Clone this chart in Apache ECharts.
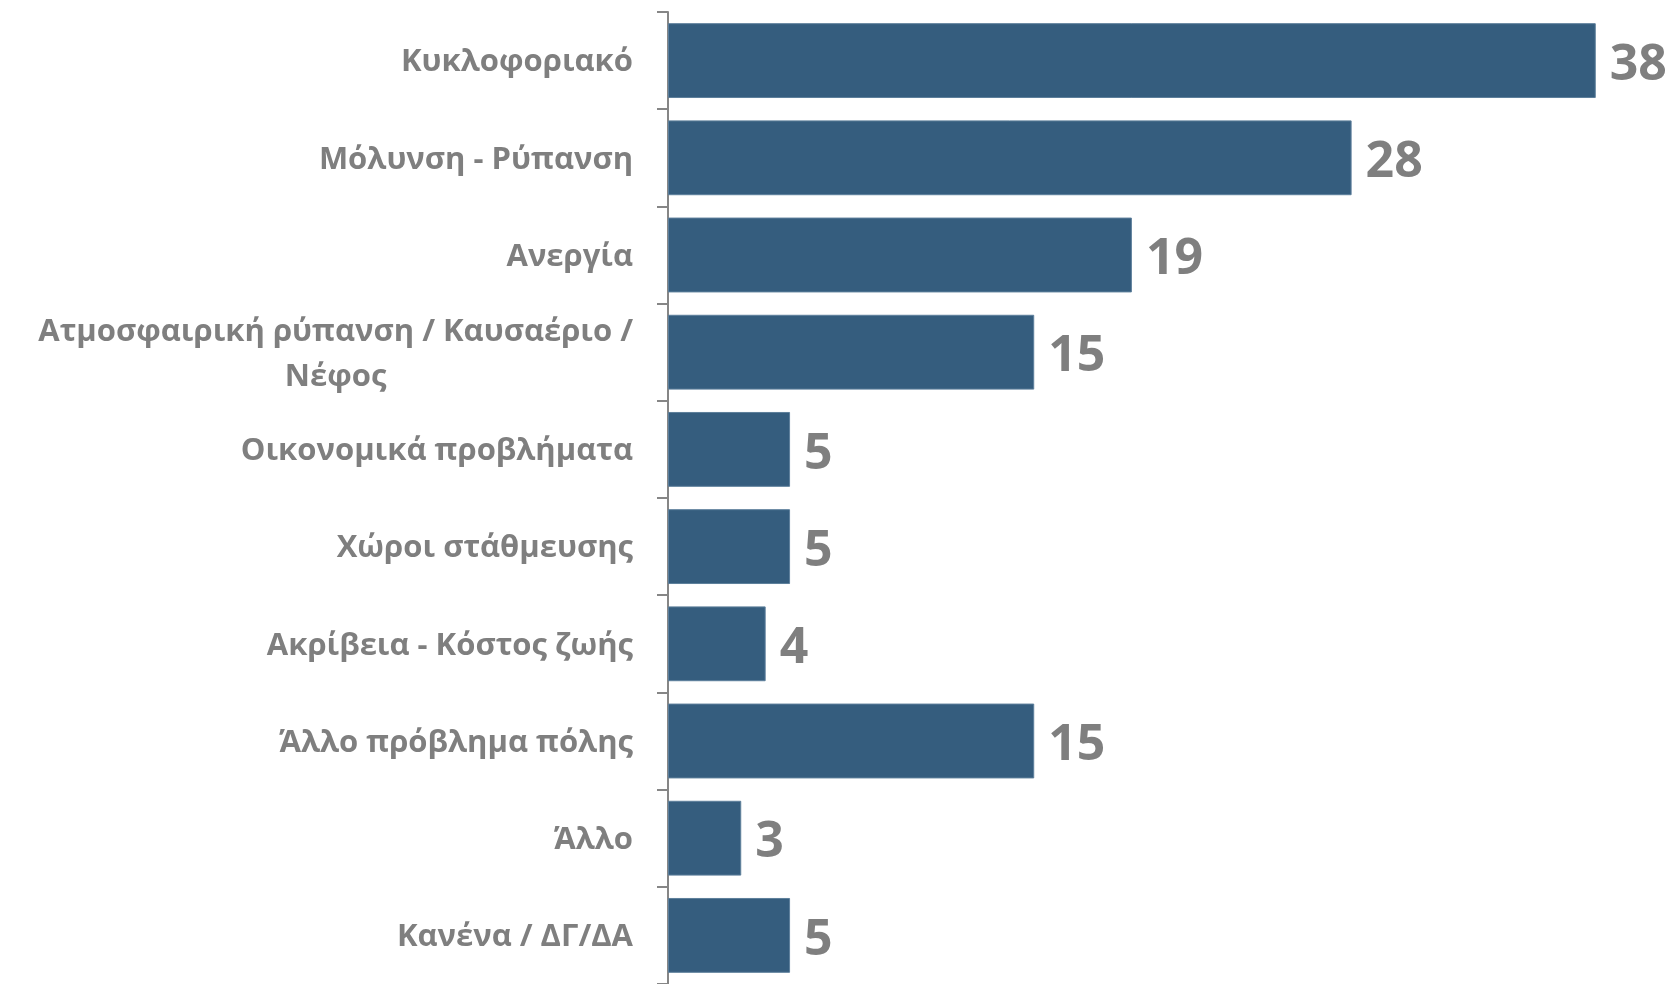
<!DOCTYPE html>
<html>
<head>
<meta charset="utf-8">
<script src="https://cdn.jsdelivr.net/npm/echarts@6/dist/echarts.min.js"></script>
<style>
  html, body { margin: 0; padding: 0; background: #fff; }
  #chart { width: 1672px; height: 984px; }
</style>
</head>
<body>
<div id="chart"></div>
<script>
const categories = [
  'Κυκλοφοριακό',
  'Μόλυνση - Ρύπανση',
  'Ανεργία',
  'Ατμοσφαιρική ρύπανση / Καυσαέριο /\nΝέφος',
  'Οικονομικά προβλήματα',
  'Χώροι στάθμευσης',
  'Ακρίβεια - Κόστος ζωής',
  'Άλλο πρόβλημα πόλης',
  'Άλλο',
  'Κανένα / ΔΓ/ΔΑ'
]
const values = [38, 28, 19, 15, 5, 5, 4, 15, 3, 5]

const myChart = echarts.init(document.getElementById('chart'))
const option = {
  animation: false,
  backgroundColor: '#fff',
  grid: {
    left: 668,
    top: 12,
    width: 1001,
    height: 977
  },
  xAxis: {
    type: 'value',
    min: 0,
    max: 41,
    show: false
  },
  yAxis: {
    type: 'category',
    data: categories,
    inverse: true,
    axisLine: { show: true, lineStyle: { color: '#868686', width: 2 } },
    axisTick: { show: true, length: 11, lineStyle: { color: '#868686', width: 2 } },
    axisLabel: {
      margin: 35,
      padding: [4, 0, 0, 0],
      color: '#7f7f7f',
      fontFamily: 'Open Sans',
      fontWeight: 'bold',
      fontSize: 31,
      lineHeight: 45,
      formatter: function (v) {
        // centre the lines of a wrapped label
        return v.split('\n').map(s => '{c|' + s + '}').join('\n')
      },
      rich: {
        c: {
          align: 'center',
          color: '#7f7f7f',
          fontFamily: 'Open Sans',
          fontWeight: 'bold',
          fontSize: 31,
          lineHeight: 45
        }
      }
    }
  },
  series: [
    {
      type: 'bar',
      data: values,
      barCategoryGap: '23%',
      itemStyle: {
        color: '#355d7e',
        borderColor: '#5d7f9b',
        borderWidth: 1
      },
      label: {
        show: true,
        position: 'right',
        distance: 14,
        offset: [0, 5],
        color: '#7f7f7f',
        fontFamily: 'Open Sans',
        fontWeight: 'bold',
        fontSize: 50
      }
    }
  ]
}
myChart.setOption(option)
</script>
</body>
</html>
